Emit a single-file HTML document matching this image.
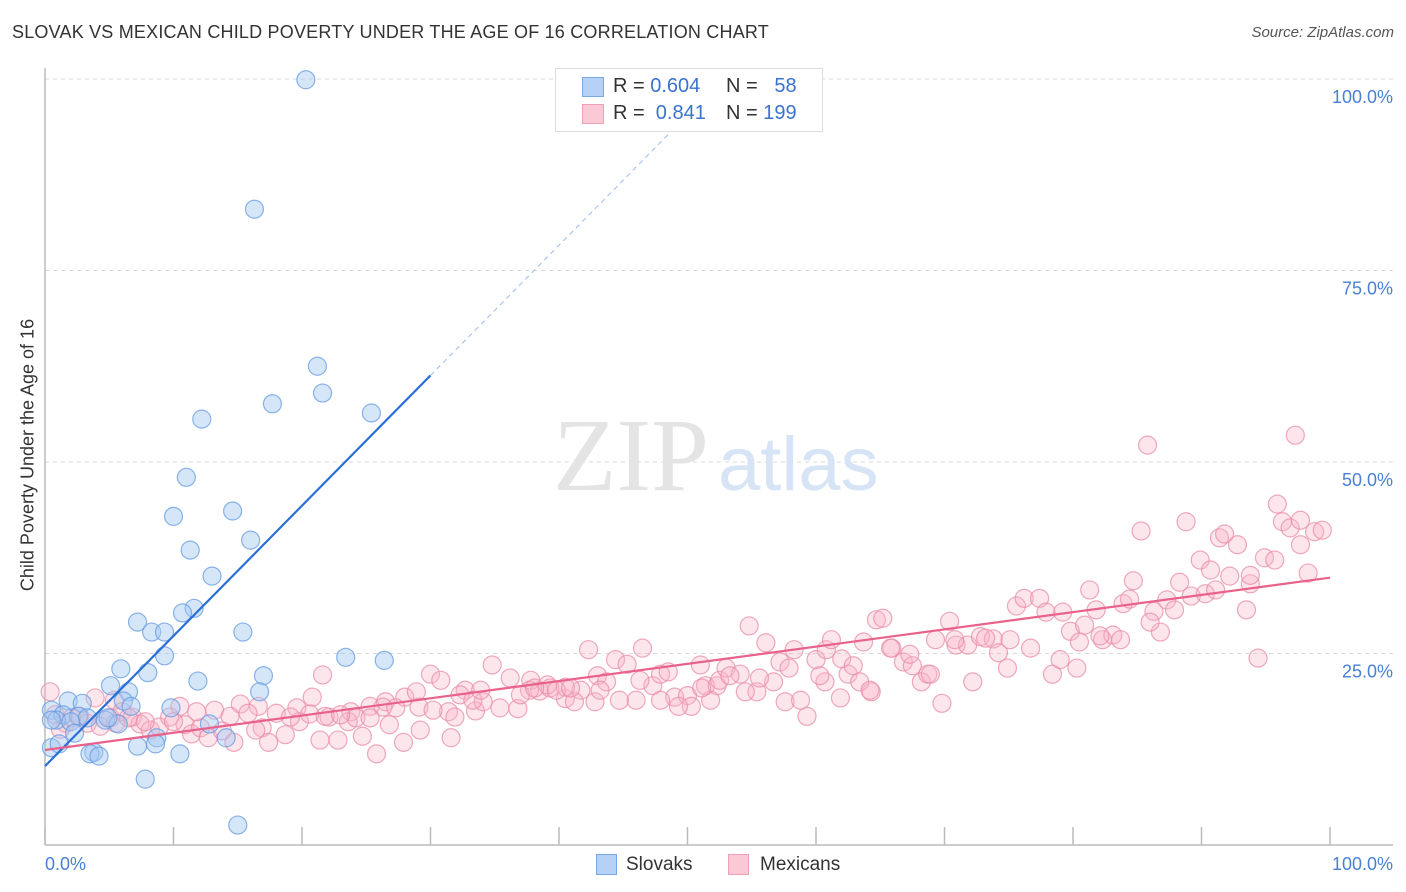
<!DOCTYPE html>
<html><head><meta charset="utf-8"><style>
body{margin:0;background:#fff;font-family:"Liberation Sans",sans-serif;}
#wrap{position:relative;width:1406px;height:892px;overflow:hidden;}
.t{position:absolute;white-space:nowrap;}
</style></head><body>
<div id="wrap">
<div class="t" style="left:12px;top:22px;font-size:18px;color:#333;letter-spacing:0.2px">SLOVAK VS MEXICAN CHILD POVERTY UNDER THE AGE OF 16 CORRELATION CHART</div>
<div class="t" style="right:12px;top:24px;font-size:15px;color:#555;font-style:italic">Source: ZipAtlas.com</div>
<svg id="plot" width="1406" height="892" style="position:absolute;left:0;top:0"></svg>
<div style="position:absolute;left:555px;top:68px;width:266px;height:62px;border:1px solid #ddd;background:#fff;font-size:20px;">
 <div style="position:absolute;left:26px;top:8px;width:20px;height:18px;background:#b5d0f5;border:1px solid #7aa8e6"></div>
 <div class="t" style="left:57px;top:6px;color:#333">R = <span style="color:#3a72d0">0.604</span></div>
 <div class="t" style="left:170px;top:6px;color:#333">N = &nbsp;&nbsp;<span style="color:#3a72d0">58</span></div>
 <div style="position:absolute;left:26px;top:35px;width:20px;height:18px;background:#fbc8d6;border:1px solid #eea0b6"></div>
 <div class="t" style="left:57px;top:33px;color:#333">R = &nbsp;<span style="color:#3a72d0">0.841</span></div>
 <div class="t" style="left:170px;top:33px;color:#333">N = <span style="color:#3a72d0">199</span></div>
</div>
<div style="position:absolute;left:596px;top:854px;width:19px;height:19px;background:#b5d0f5;border:1px solid #7aa8e6"></div>
<div class="t" style="left:626px;top:854px;font-size:19px;color:#333">Slovaks</div>
<div style="position:absolute;left:728px;top:854px;width:19px;height:19px;background:#fbc8d6;border:1px solid #eea0b6"></div>
<div class="t" style="left:760px;top:854px;font-size:19px;color:#333">Mexicans</div>
<div class="t" style="left:28px;top:455px;font-size:18px;color:#333;transform:translate(-50%,-50%) rotate(-90deg)">Child Poverty Under the Age of 16</div>
</div>
<script>
const blueX=[20.3,16.3,21.2,21.6,25.4,17.7,12.2,11.0,10.0,14.6,16.0,11.3,13.0,11.6,10.7,7.2,8.3,9.3,15.4,9.3,23.4,26.4,5.9,8.0,17.0,5.1,11.9,6.5,16.7,1.8,2.9,6.1,6.7,9.8,0.5,1.4,2.6,3.3,0.9,2.0,4.7,5.7,12.8,4.9,2.3,14.1,8.7,8.6,7.2,0.5,1.1,3.8,3.5,4.2,10.5,7.8,15.0,0.5];
const blueY=[99.9,83.0,62.5,59.0,56.4,57.6,55.6,48.0,42.9,43.6,39.8,38.5,35.1,30.9,30.3,29.1,27.8,27.8,27.8,24.7,24.5,24.1,23.0,22.5,22.1,20.8,21.4,20.0,20.0,18.8,18.5,18.8,18.1,17.9,17.6,17.0,16.8,16.6,16.3,16.1,16.3,15.8,15.8,16.6,14.6,14.0,14.0,13.2,12.9,12.7,13.2,12.1,11.9,11.6,11.9,8.6,2.6,16.3];
const pinkX=[0.4,3.9,5.4,10.5,13.2,15.2,16.6,18.0,19.6,21.6,20.8,22.1,23.8,25.3,26.5,28.0,28.9,30.0,30.8,31.4,32.7,33.5,34.8,34.1,36.2,36.8,37.8,38.5,39.3,40.5,41.7,42.3,43.0,43.7,44.4,45.3,46.5,46.0,47.3,47.9,48.5,49.0,50.0,50.3,51.0,51.4,52.3,52.5,53.0,54.1,54.8,55.4,56.1,56.7,57.2,57.9,58.3,59.3,60.0,60.8,61.2,62.0,62.5,62.9,63.7,64.3,64.7,65.2,65.9,66.8,67.5,68.2,68.7,69.3,69.8,70.4,70.9,71.8,72.2,72.8,73.8,74.2,74.9,75.6,76.2,76.7,77.4,77.9,78.4,79.2,79.8,80.3,80.9,81.3,81.8,82.3,83.1,83.9,84.4,84.7,85.3,85.8,86.3,86.8,87.3,88.3,88.8,89.2,89.9,90.3,90.7,91.4,91.8,92.2,92.8,93.5,93.8,94.4,94.9,95.9,96.3,96.9,97.3,97.7,98.3,98.8,99.4,
0.8,1.6,2.1,2.7,3.3,4.3,5.1,6.0,6.8,7.4,8.2,8.9,9.7,10.9,11.4,12.1,12.7,13.8,14.7,15.8,16.9,17.4,18.7,19.8,20.6,21.8,22.8,23.6,24.2,24.7,25.8,26.3,26.8,27.3,27.9,29.1,30.2,31.6,32.3,33.3,35.4,37.7,39.1,40.5,41.2,42.8,44.7,47.9,49.3,51.8,53.3,54.5,55.6,57.6,58.8,60.7,61.9,63.4,65.8,67.3,68.9,70.8,73.2,75.1,79.0,80.5,82.1,83.7,86.0,87.9,91.1,93.8,95.7,97.7,5.5,6.5,1.2,7.8,10.0,11.8,14.4,19.1,16.4,21.4,23.0,25.3,29.2,31.9,33.9,37.0,38.1,39.8,40.9,43.2,46.3,51.1,60.3,64.2];
const pinkY=[20.0,19.2,18.9,18.1,17.6,18.4,18.1,17.2,17.9,22.2,19.3,16.7,17.4,18.1,18.7,19.3,20.0,22.3,21.5,17.4,20.2,17.5,23.5,18.7,21.8,17.8,21.5,20.1,20.5,19.1,20.2,25.5,22.1,21.3,24.2,23.6,25.7,18.9,20.8,22.3,22.6,19.3,19.5,18.1,23.5,20.8,20.8,21.5,23.1,22.3,28.6,20.0,26.4,21.3,23.9,23.1,25.5,16.8,24.2,25.5,26.8,24.3,22.3,23.4,26.5,20.0,29.4,29.6,25.7,23.9,23.4,21.3,22.3,26.8,18.5,29.2,26.1,26.1,21.3,27.2,26.9,25.1,23.1,31.2,32.2,25.7,32.2,30.4,22.3,30.4,27.9,23.1,28.7,33.3,30.7,26.8,27.4,31.5,32.1,34.5,41.0,52.2,30.5,27.8,32.0,34.3,42.2,32.5,37.2,32.8,35.9,40.1,40.6,35.1,39.2,30.7,34.1,24.4,37.5,44.5,42.2,41.4,53.5,42.4,35.5,40.9,41.1,
17.0,15.9,16.6,16.8,15.9,15.5,16.6,17.4,16.7,15.8,15.0,15.4,16.7,15.7,14.5,15.3,14.0,14.9,13.4,17.2,15.3,13.4,14.4,16.1,17.1,16.8,13.7,16.1,16.6,14.2,11.9,18.0,15.7,17.9,13.4,18.0,17.6,14.0,19.6,18.9,17.9,20.2,20.9,20.6,18.7,18.7,18.9,18.9,18.1,18.9,22.1,20.0,21.8,18.7,18.9,21.3,19.2,21.3,25.7,24.9,22.3,26.8,27.0,26.8,24.2,26.5,27.3,26.8,29.1,30.7,33.3,35.2,37.2,39.2,15.9,16.6,15.1,16.1,16.1,17.4,16.8,16.7,15.0,13.7,17.0,16.6,15.0,16.7,20.2,19.6,20.5,20.2,20.5,20.2,21.5,20.5,22.1,20.2];
const blueTrend=[10.3,1.70]; // intercept, slope
const pinkTrend=[12.4,0.225];
const yTicks=[25,50,75,100];
const xTicks=[0,10,20,30,40,50,60,70,80,90,100];

const NS='http://www.w3.org/2000/svg';
const svg=document.getElementById('plot');
const X0=45,X1=1330,Y0=845,Y100=79;
const sx=v=>X0+(X1-X0)*v/100;
const sy=v=>Y0-(Y0-Y100)*v/100;
function mk(tag,attrs,parent){const e=document.createElementNS(NS,tag);for(const k in attrs)e.setAttribute(k,attrs[k]);(parent||svg).appendChild(e);return e;}

yTicks.forEach(t=>{
 const g=mk('line',{x1:X0,x2:1393,y1:sy(t),y2:sy(t),stroke:'#d8d8d8','stroke-dasharray':'4,4'});
 
 
 const tx=mk('text',{x:1393,y:sy(t)+24,'text-anchor':'end','font-size':18,fill:'#4a7fd4','font-family':'Liberation Sans'});
 tx.textContent=t.toFixed(1)+'%';
 
 
});
const ax=mk('line',{x1:X0,x2:X0,y1:68,y2:Y0,stroke:'#bbb','stroke-width':1.5});


const bx=mk('line',{x1:X0,x2:1393,y1:Y0,y2:Y0,stroke:'#bbb','stroke-width':1.5});


xTicks.forEach(t=>{
 const l=mk('line',{x1:sx(t),x2:sx(t),y1:Y0-18,y2:Y0,stroke:'#bbb','stroke-width':1.5});
 
 
});
const xl0=mk('text',{x:X0,y:870,'font-size':18,fill:'#4a7fd4','font-family':'Liberation Sans'});xl0.textContent='0.0%';


const xl1=mk('text',{x:1393,y:870,'text-anchor':'end','font-size':18,fill:'#4a7fd4','font-family':'Liberation Sans'});xl1.textContent='100.0%';



const w1=mk('text',{x:553,y:490,'font-size':104,fill:'#e4e4e4','font-family':'Liberation Serif'});w1.textContent='ZIP';


const w2=mk('text',{x:718,y:490,'font-size':76,fill:'#d6e4f6','font-family':'Liberation Sans'});w2.textContent='atlas';



pinkX.forEach((x,i)=>{
 const c=mk('circle',{cx:sx(x),cy:sy(pinkY[i]),r:9,fill:'rgba(248,180,200,0.35)',stroke:'rgba(232,140,168,0.75)','stroke-width':1.2});
 
 
});
blueX.forEach((x,i)=>{
 const c=mk('circle',{cx:sx(x),cy:sy(blueY[i]),r:9,fill:'rgba(165,200,242,0.45)',stroke:'rgba(100,155,225,0.75)','stroke-width':1.2});
 
 
});
const bxEnd=30, bxDash=(100-blueTrend[0])/blueTrend[1];
const bl=mk('line',{x1:sx(0),y1:sy(blueTrend[0]),x2:sx(bxEnd),y2:sy(blueTrend[0]+blueTrend[1]*bxEnd),stroke:'#2a6fd6','stroke-width':2.2});


const bd=mk('line',{x1:sx(bxEnd),y1:sy(blueTrend[0]+blueTrend[1]*bxEnd),x2:sx(bxDash),y2:sy(100),stroke:'#9bbbe6','stroke-width':1,'stroke-dasharray':'5,4'});


const pl=mk('line',{x1:sx(0),y1:sy(pinkTrend[0]),x2:sx(100),y2:sy(pinkTrend[0]+pinkTrend[1]*100),stroke:'#e8628c','stroke-width':2.2});


</script>
</body></html>
